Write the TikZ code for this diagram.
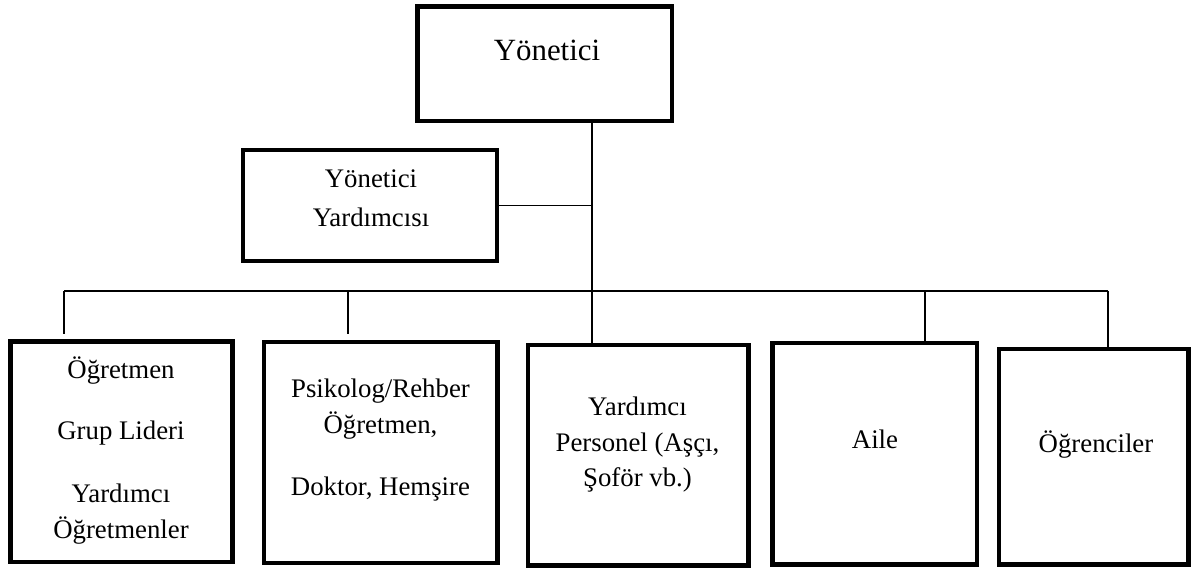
\documentclass[tikz,border=0pt]{standalone}
\usepackage{fontspec}
\setmainfont{Liberation Serif}
\begin{document}
\begin{tikzpicture}[x=1pt,y=-1pt,
  boxst/.style={draw=black, line width=4.8pt, fill=white, inner sep=0pt, rectangle},
  txt/.style={align=center, anchor=base, inner sep=0pt, font=\fontsize{26.8}{36}\selectfont},
  bigtxt/.style={align=center, anchor=base, inner sep=0pt, font=\fontsize{30.9}{40}\selectfont},
  conn/.style={draw=black, line width=1.8pt}]
\useasboundingbox (0,0) rectangle (1192,569);
% boxes
\node[boxst, minimum width=254.5pt, minimum height=114.5pt] (top) at (544.75,63.75) {};
\node[boxst, minimum width=254pt, minimum height=111pt] (yy) at (370,205.5) {};
\node[boxst, minimum width=222pt, minimum height=220.5pt] (b1) at (121.5,451.75) {};
\node[boxst, minimum width=233.5pt, minimum height=221pt] (b2) at (380.75,452.5) {};
\node[boxst, minimum width=220.5pt, minimum height=220.5pt] (b3) at (638.25,455.25) {};
\node[boxst, minimum width=204.5pt, minimum height=221.5pt] (b4) at (874.75,453.75) {};
\node[boxst, minimum width=189.5pt, minimum height=215.5pt] (b5) at (1093.75,456.75) {};
% texts (anchored at the baseline of their last line)
\node[bigtxt] (ttop) at (547,61) {Yönetici};
\node[txt] (tyy) at (371,227) {Yönetici\\[3pt]Yardımcısı};
\node[txt] (tb1) at (121,538) {Öğretmen\\[25pt]Grup Lideri\\[27pt]Yardımcı\\Öğretmenler};
\node[txt] (tb2) at (380.5,495) {Psikolog/Rehber\\Öğretmen,\\[26pt]Doktor, Hemşire};
\node[txt] (tb3) at (637.5,486) {Yardımcı\\Personel (Aşçı,\\[-1pt]Şoför vb.)};
\node[txt] (tb4) at (875,448) {Aile};
\node[txt] (tb5) at (1096,452) {Öğrenciler};
% junction coordinates
\coordinate (d1) at (64,291);
\coordinate (d2) at (347.7,291);
\coordinate (d3) at (592,291);
\coordinate (d4) at (925.3,291);
\coordinate (d5) at (1107.7,291);
\coordinate (e1) at (64,334);
\coordinate (e2) at (347.7,334);
% connectors
\draw[conn] (top.south -| d3) -- (b3.north -| d3);
\draw[conn] (yy.east) -- (yy.east -| d3);
\draw[conn] (d1) -- (d5);
\draw[conn] (d1) -- (e1);
\draw[conn] (d2) -- (e2);
\draw[conn] (d4) -- (b4.north -| d4);
\draw[conn] (d5) -- (b5.north -| d5);
\end{tikzpicture}
\end{document}
